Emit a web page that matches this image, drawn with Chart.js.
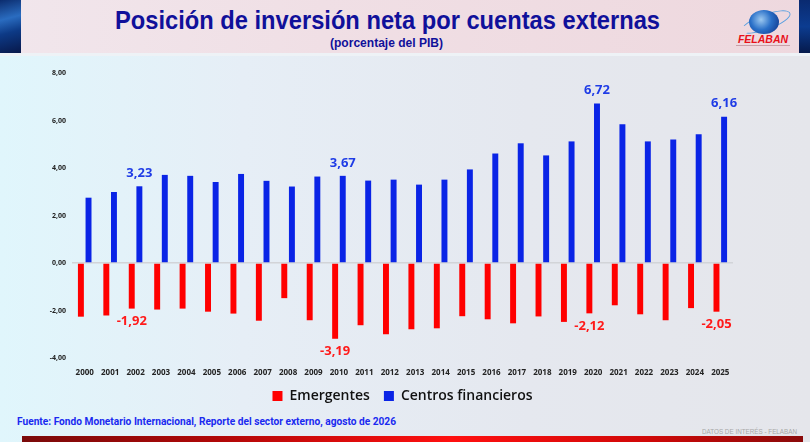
<!DOCTYPE html>
<html><head><meta charset="utf-8">
<script src="https://cdn.jsdelivr.net/npm/chart.js@4.4.1/dist/chart.umd.min.js"></script>
<style>
html,body{margin:0;padding:0;width:810px;height:442px;overflow:hidden;}
body{position:relative;background:linear-gradient(90deg,#e0f6fc 0%,#e6eef6 30%,#e5e8ef 65%,#e5e6eb 100%);font-family:"Liberation Sans",Arial,sans-serif;}
#header{position:absolute;left:0;top:0;width:810px;height:53px;background:linear-gradient(90deg,#f1e6ec 0%,#f0dfe5 40%,#eed8de 100%);border-bottom:3px solid #eef2f6;}
#lstrip{position:absolute;left:0;top:0;width:21px;height:53px;background:linear-gradient(165deg,#0b2c6e 0%,#2a6cc0 35%,#0d3a86 60%,#08184a 100%);}
#rstrip{position:absolute;left:799px;top:0;width:11px;height:53px;background:linear-gradient(180deg,#0a2a70,#0c3c90 50%,#061a4c);}
.fit{position:absolute;white-space:nowrap;transform-origin:0 0;}
#title{top:6px;font:bold 25px "Liberation Sans",Arial,sans-serif;color:#10109a;}
#subtitle{top:36px;font:bold 12px "Liberation Sans",Arial,sans-serif;color:#10109a;}
#globe{position:absolute;left:749px;top:10px;width:30px;height:24px;border-radius:50%;background:radial-gradient(circle at 40% 40%,#9cc8f0 0%,#2a70c8 45%,#0a2c80 100%);}
#ring{position:absolute;left:740px;top:14px;width:50px;height:14px;border:1.5px solid #5aa0e0;border-radius:50%;transform:rotate(-20deg);border-left-color:transparent;}
#felaban{position:absolute;left:735px;top:33px;width:56px;text-align:center;font:italic bold 10.5px "Liberation Sans",Arial,sans-serif;color:#e8101a;}
#felsub{position:absolute;left:736px;top:45px;width:54px;height:1px;background:#c8a0a8;}
#chartbox{position:absolute;left:0;top:56px;width:810px;height:359px;}
#fuente{top:415px;font:bold 11px Roboto,"Liberation Sans",Arial,sans-serif;color:#1a2af0;}
#datos{top:428px;font:7px "Liberation Sans",Arial,sans-serif;color:#a8a8a8;}
#redbar{position:absolute;left:22px;top:436px;width:781px;height:6px;background:linear-gradient(90deg,#7a0a0a 0%,#b00808 25%,#ff1010 55%,#d00808 80%,#8a0a0a 100%);}
</style></head>
<body>
<div id="header"></div>
<div id="lstrip"></div>
<div id="rstrip"></div>
<div id="title" class="fit" data-l="115" data-w="545">Posición de inversión neta por cuentas externas</div>
<div id="subtitle" class="fit" data-l="330" data-w="113">(porcentaje del PIB)</div>
<div id="ring"></div>
<div id="globe"></div>
<div id="felaban">FELABAN</div>
<div id="felsub"></div>
<div id="chartbox"><canvas id="c"></canvas></div>
<div id="fuente" class="fit" data-l="17" data-w="379">Fuente: Fondo Monetario Internacional, Reporte del sector externo, agosto de 2026</div>
<div id="datos" class="fit" data-l="702" data-w="95">DATOS DE INTERÉS - FELABAN</div>
<div id="redbar"></div>
<script>
const years = ["2000","2001","2002","2003","2004","2005","2006","2007","2008","2009","2010","2011","2012","2013","2014","2015","2016","2017","2018","2019","2020","2021","2022","2023","2024","2025"];
const emergentes = [-2.26,-2.21,-1.92,-1.96,-1.92,-2.05,-2.13,-2.43,-1.48,-2.41,-3.19,-2.62,-3.00,-2.79,-2.75,-2.24,-2.37,-2.54,-2.25,-2.48,-2.12,-1.78,-2.16,-2.41,-1.90,-2.05];
const centros = [2.75,2.99,3.23,3.71,3.67,3.41,3.75,3.46,3.22,3.64,3.67,3.47,3.51,3.30,3.51,3.94,4.61,5.04,4.53,5.12,6.72,5.84,5.12,5.20,5.42,6.16];
const labeledYears = ["2002","2010","2020","2025"];
const yTicks = [-4,-2,0,2,4,6,8];

document.querySelectorAll('.fit').forEach(el => {
  el.style.left = el.dataset.l + 'px';
  const w = el.getBoundingClientRect().width;
  el.style.transform = 'scaleX(' + (parseFloat(el.dataset.w) / w) + ')';
});

const fmt = v => v.toFixed(2).replace('.', ',');

const labelPlugin = {
  id: 'barLabels',
  afterDatasetsDraw(chart) {
    const ctx = chart.ctx;
    ctx.save();
    ctx.font = 'bold 13px "Open Sans", sans-serif';
    ctx.textAlign = 'center';
    ctx.textBaseline = 'middle';
    chart.data.datasets.forEach((ds, di) => {
      const meta = chart.getDatasetMeta(di);
      chart.data.labels.forEach((lab, i) => {
        if (!labeledYears.includes(lab)) return;
        const el = meta.data[i];
        const v = ds.data[i];
        ctx.fillStyle = ds.labelColor;
        const y = v >= 0 ? el.y - 13 : el.y + 13;
        ctx.fillText(fmt(v), el.x, y);
      });
    });
    ctx.restore();
  }
};

new Chart(document.getElementById('c'), {
  type: 'bar',
  data: {
    labels: years,
    datasets: [
      {label: 'Emergentes', data: emergentes, backgroundColor: '#ff0000', labelColor: '#ff1a1a', categoryPercentage: 0.6, barPercentage: 0.78},
      {label: 'Centros financieros', data: centros, backgroundColor: '#0a24e6', labelColor: '#1f3ce6', categoryPercentage: 0.6, barPercentage: 0.78}
    ]
  },
  options: {
    responsive: true,
    maintainAspectRatio: false,
    animation: false,
    layout: {padding: {top: 17, right: 77, left: 0, bottom: 2}},
    plugins: {
      legend: {
        position: 'bottom',
        fullSize: false,
        labels: {
          boxWidth: 10, boxHeight: 10, padding: 14, color: '#111',
          font: {family: '"Open Sans", sans-serif', size: 14, weight: '600'}
        }
      },
      tooltip: {enabled: false}
    },
    scales: {
      x: {
        grid: {display: false, drawTicks: false},
        border: {display: false},
        ticks: {padding: 10, color: '#222', font: {family: '"Open Sans", sans-serif', size: 8, weight: 'bold'}, maxRotation: 0, autoSkip: false},
        afterFit(s) { s.height = 17; }
      },
      y: {
        min: -4, max: 8,
        afterBuildTicks(s) { s.ticks = yTicks.map(v => ({value: v})); },
        grid: {
          drawTicks: false,
          color: c => (c.tick && c.tick.value === 0) ? '#d2d4d8' : 'rgba(0,0,0,0)',
          lineWidth: 1.5
        },
        border: {display: false},
        ticks: {padding: 6, color: '#222', font: {family: '"Open Sans", sans-serif', size: 7, weight: 'bold'}, callback: v => fmt(v)},
        afterFit(s) { s.width = 72; }
      }
    }
  },
  plugins: [labelPlugin]
});
</script>
</body></html>
